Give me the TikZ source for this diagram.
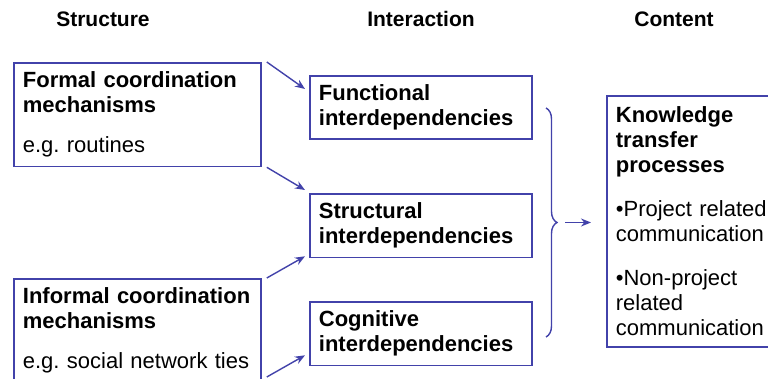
\documentclass[tikz,border=0pt]{standalone}
\usepackage{fontspec}
\setmainfont{Liberation Sans}
\usepackage{tikz}
\usepackage{xcolor}
\usetikzlibrary{arrows.meta,decorations.pathreplacing}
\frenchspacing
\definecolor{boxblue}{RGB}{66,66,170}
\tikzset{
    plain-box/.style = {draw=boxblue, fill=white, line width=1.8pt, rectangle, anchor=north west, align=left, inner xsep=9pt, inner ysep=9pt, font=\fontsize{22}{25}\selectfont},
    head-title/.style = {anchor=base, font=\fontsize{21}{25}\selectfont\bfseries},
    flow-arrow/.style = {draw=boxblue, line width=1.4pt, -{Stealth[length=10pt,width=8pt]}},
}

\begin{document}
\begin{tikzpicture}[x=1pt,y=1pt]
\useasboundingbox (0,0) rectangle (768,379);
% column titles
\node[head-title] (t-structure) at (103,352) {Structure};
\node[head-title] (t-interaction) at (421,352) {Interaction};
\node[head-title] (t-content) at (674,352) {Content};
% structure
\node[plain-box, text width=229pt] (formal) at (13,317) {\textbf{Formal coordination}\\\textbf{mechanisms}\\[15pt]e.g. routines};
\node[plain-box, text width=229pt] (informal) at (13,101) {\textbf{Informal coordination}\\\textbf{mechanisms}\\[15pt]e.g. social network ties};
% interaction
\node[plain-box, text width=204pt] (func) at (309,304) {\textbf{Functional}\\\textbf{interdependencies}};
\node[plain-box, text width=204pt] (struct) at (309,186) {\textbf{Structural}\\\textbf{interdependencies}};
\node[plain-box, text width=204pt] (cogn) at (309,78) {\textbf{Cognitive}\\\textbf{interdependencies}};
% content
\node[plain-box, text width=160pt, inner ysep=11pt] (content) at (606,284) {\textbf{Knowledge}\\\textbf{transfer}\\\textbf{processes}\\[19pt]•Project related\\communication\\[19pt]•Non-project\\related\\communication};
% arrows
\draw[flow-arrow] ([xshift=5pt]formal.north east) -- ([shift={(-4pt,-14pt)}]func.north west);
\draw[flow-arrow] ([xshift=5pt]formal.south east) -- ([shift={(-4pt,3pt)}]struct.north west);
\draw[flow-arrow] ([xshift=5pt]informal.north east) -- ([shift={(-4pt,2pt)}]struct.south west);
\draw[flow-arrow] ([shift={(5pt,-99pt)}]informal.north east) -- ([shift={(-4pt,11pt)}]cogn.south west);
% brace
\draw[draw=boxblue, line width=1.4pt, decorate, decoration={brace, amplitude=11pt, aspect=0.5}] (546,271) -- (546,42);
\coordinate (brace-tip) at (557,156.5);
\draw[flow-arrow] ([xshift=8pt]brace-tip) -- ([xshift=-15pt]content.west |- brace-tip);
\end{tikzpicture}
\end{document}
